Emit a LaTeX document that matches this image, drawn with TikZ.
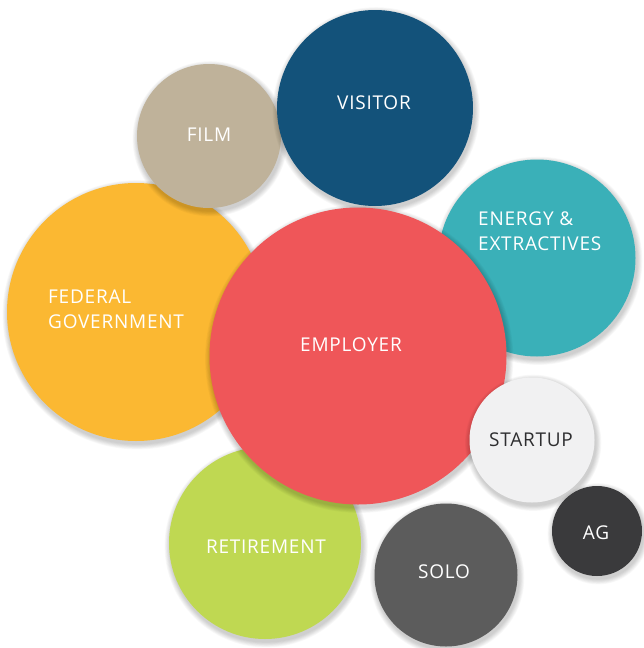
\documentclass[tikz,border=0pt]{standalone}
\usepackage{fontspec}
\setmainfont{Open Sans}[LetterSpace=4]
\definecolor{filmc}{HTML}{BFB29A}
\definecolor{visitorc}{HTML}{13527A}
\definecolor{energyc}{HTML}{3AB0B8}
\definecolor{federalc}{HTML}{FBB832}
\definecolor{employerc}{HTML}{EF5659}
\definecolor{startupc}{HTML}{F1F1F2}
\definecolor{agc}{HTML}{3A3A3C}
\definecolor{soloc}{HTML}{5C5C5C}
\definecolor{retirec}{HTML}{BFD852}
\definecolor{darktext}{HTML}{2E2E30}
\tikzset{
  label text/.style={text=white, font=\fontsize{19}{25}\selectfont, inner sep=0pt},
  dark text/.style={label text, text=darktext},
}
% a filled disc with a soft shadow falling slightly down and to the right
\newcommand\bubble[5]{%
  \foreach \k in {1,...,7}{%
    \fill[black,opacity=0.028] (#2+1.2,#3+2.8) circle[radius=#4+\k*0.8];}
  \node[circle, fill=#5, inner sep=0pt, minimum size=#4*2pt] (#1) at (#2,#3) {};
}
\begin{document}
\begin{tikzpicture}[x=1pt,y=-1pt]
\useasboundingbox[fill=white] (0,0) rectangle (644,648);
\bubble{federal}{136}{312}{129}{federalc}
\bubble{film}{209}{136}{72}{filmc}
\bubble{energy}{537}{258}{98.5}{energyc}
\bubble{retire}{265}{543}{96}{retirec}
\bubble{visitor}{375}{108}{98}{visitorc}
\bubble{employer}{358}{356}{148.5}{employerc}
\bubble{startup}{532}{440}{62.5}{startupc}
\bubble{solo}{446}{575}{71.5}{soloc}
\bubble{ag}{597}{531}{45}{agc}

\node[label text] (tfilm) at (209,135) {FILM};
\node[label text] (tvisitor) at (374,103) {VISITOR};
\node[label text, align=left, anchor=west] (tenergy) at (478,231) {ENERGY \&\\EXTRACTIVES};
\node[label text, align=left, anchor=west] (tfederal) at (48,309) {FEDERAL\\GOVERNMENT};
\node[label text] (temployer) at (351,345) {EMPLOYER};
\node[dark text] (tstartup) at (531,440) {STARTUP};
\node[label text] (tag) at (596,533) {AG};
\node[label text] (tretire) at (266,547) {RETIREMENT};
\node[label text] (tsolo) at (444,572) {SOLO};
\end{tikzpicture}
\end{document}
